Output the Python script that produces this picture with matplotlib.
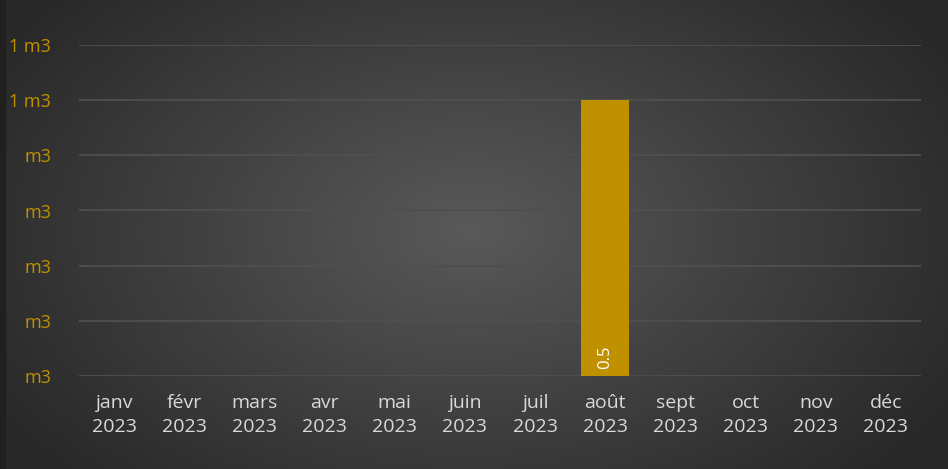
import math
import numpy as np
import matplotlib
matplotlib.use("Agg")
import matplotlib.pyplot as plt
from matplotlib.ticker import FuncFormatter, MultipleLocator

months = ["janv", "févr", "mars", "avr", "mai", "juin", "juil", "août",
          "sept", "oct", "nov", "déc"]
year = "2023"
values = [0, 0, 0, 0, 0, 0, 0, 0.5, 0, 0, 0, 0]

W, H = 948, 469
fig = plt.figure(figsize=(W / 100, H / 100), dpi=100)

# radial gradient background
bg = fig.add_axes([0, 0, 1, 1], zorder=0)
yy, xx = np.mgrid[0:H, 0:W]
r = np.sqrt(((xx - 470) / 520.0) ** 2 + ((yy - 230) / 330.0) ** 2)
shade = np.clip(0.35 - 0.18 * r, 0.16, 0.35)
bg.imshow(np.dstack([shade] * 3), aspect="auto", extent=[0, W, H, 0])
bg.axvspan(0, 5, color="#202020")
bg.set_xlim(0, W); bg.set_ylim(H, 0)
bg.axis("off")

ax = fig.add_axes([79 / W, 1 - 376 / H, 842 / W, 331 / H], zorder=1)
ax.patch.set_alpha(0)
x = np.arange(len(months))
bars = ax.bar(x, values, width=0.68, color="#BF9000", zorder=3)
ax.set_xlim(-0.5, len(months) - 0.5)
ax.set_ylim(0, 0.6)
ax.yaxis.set_major_locator(MultipleLocator(0.1))


def fmt(v, pos):
    n = int(math.floor(v + 0.5 + 1e-9))
    return f"{n} m3" if n else "m3"


ax.yaxis.set_major_formatter(FuncFormatter(fmt))
ax.grid(axis="y", color="#4f4f4f", lw=1.3, zorder=0)
ax.set_axisbelow(True)
for s in ax.spines.values():
    s.set_visible(False)
ax.tick_params(length=0)
ax.tick_params(axis="y", colors="#BF9000", labelsize=13, pad=20)
ax.set_xticks(x)
ax.set_xticklabels([f"{m}\n{year}" for m in months], color="#D9D9D9",
                   fontsize=14, linespacing=1.45)
ax.tick_params(axis="x", pad=13)
for lbl in ax.get_yticklabels() + ax.get_xticklabels():
    lbl.set_family(["Open Sans", "DejaVu Sans"])

for xi, v in zip(x, values):
    if v:
        ax.text(xi, 0.012, f"{v:g}", rotation=90, ha="center", va="bottom",
                color="white", fontsize=12, family=["Open Sans", "DejaVu Sans"],
                zorder=4)

fig.savefig("out.png", dpi=100)
